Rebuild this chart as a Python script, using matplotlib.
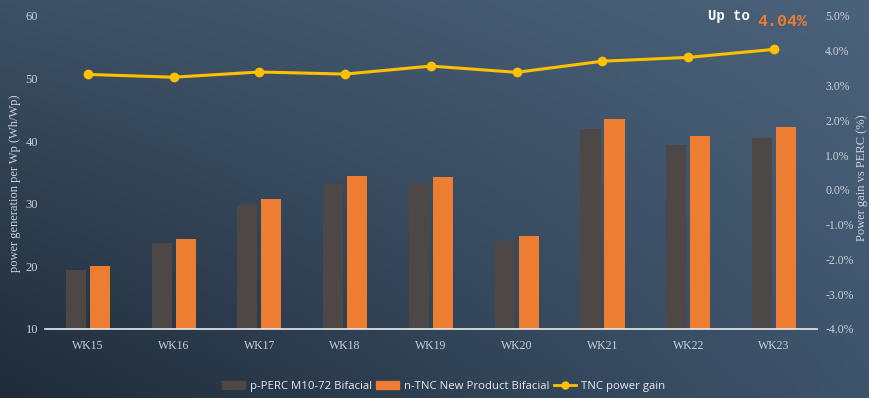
import numpy as np
import matplotlib.pyplot as plt
from matplotlib.lines import Line2D
from matplotlib.patches import Patch

weeks = ["WK15", "WK16", "WK17", "WK18", "WK19", "WK20", "WK21", "WK22", "WK23"]
perc = [19.4, 23.8, 29.8, 33.2, 33.3, 24.1, 42.0, 39.4, 40.5]
tnc = [20.1, 24.4, 30.8, 34.4, 34.3, 24.9, 43.5, 40.8, 42.3]
gain = [3.32, 3.24, 3.39, 3.33, 3.56, 3.38, 3.70, 3.81, 4.04]

left_ticks = [10, 20, 30, 40, 50, 60]
right_ticks = [-4, -3, -2, -1, 0, 1, 2, 3, 4, 5]

GRAY = "#4d4846"
ORANGE = "#ed7d31"
GOLD = "#ffc000"
TXT = "#c9d1da"
SERIF = ["Liberation Serif", "DejaVu Serif"]
MONO = ["Liberation Mono", "DejaVu Sans Mono"]

fig = plt.figure(figsize=(8.7, 3.98), dpi=100)

# gradient backdrop
bg = fig.add_axes([0, 0, 1, 1], zorder=-10)
tl = np.array([0x3d, 0x50, 0x64]) / 255
tr = np.array([0x4a, 0x62, 0x7a]) / 255
bl = np.array([0x1f, 0x2b, 0x38]) / 255
br = np.array([0x3e, 0x54, 0x6c]) / 255
u = np.linspace(0, 1, 200)[None, :, None]
v = np.linspace(0, 1, 100)[:, None, None]
img = (1 - v) * ((1 - u) * tl + u * tr) + v * ((1 - u) * bl + u * br)
bg.imshow(img, aspect="auto", extent=[0, 1, 0, 1])
bg.axis("off")

ax = fig.add_axes([0.0517, 0.1734, 0.8873, 0.7864])
ax.patch.set_alpha(0)
x = np.arange(len(weeks))
w = 0.235
ax.bar(x - 0.14, perc, width=w, color=GRAY, zorder=2)
ax.bar(x + 0.14, tnc, width=w, color=ORANGE, zorder=2)
ax.set_xlim(-0.5, len(weeks) - 0.5)
ax.set_ylim(10, 60)
ax.set_yticks(left_ticks)
ax.set_xticks(x)
ax.set_xticklabels(weeks, family=SERIF, fontsize=8.5, color=TXT)
ax.set_yticklabels([str(t) for t in left_ticks], family=SERIF, fontsize=9, color=TXT)
for s in ["top", "right", "left"]:
    ax.spines[s].set_visible(False)
ax.spines["bottom"].set_color("#e8ecef")
ax.spines["bottom"].set_linewidth(1.2)
ax.tick_params(axis="x", length=0, pad=8)
ax.tick_params(axis="y", length=0, pad=5)

ax2 = ax.twinx()
ax2.plot(x, gain, color=GOLD, lw=2.2, marker="o", ms=6, zorder=3)
ax2.set_ylim(-4, 5)
ax2.set_yticks(right_ticks)
ax2.set_yticklabels([f"{t:.1f}%" for t in right_ticks], family=SERIF,
                    fontsize=8.5, color=TXT)
for s in ["top", "right", "left", "bottom"]:
    ax2.spines[s].set_visible(False)
ax2.tick_params(axis="y", length=0, pad=6)

# axis titles
fig.text(15 / 870, 1 - 183 / 398, "power generation per Wp (Wh/Wp)", family=SERIF,
         fontsize=9, color=TXT, rotation=90, ha="center", va="center")
fig.text(862 / 870, 1 - 178 / 398, "Power gain vs PERC (%)", family=SERIF,
         fontsize=9, color=TXT, rotation=90, ha="center", va="center")

fig.text(750 / 870, 1 - 16 / 398, "Up to", family=MONO,
         fontweight="bold", fontsize=10, color="white", ha="right", va="center")
fig.text(757 / 870, 1 - 21 / 398, f"{gain[-1]:.2f}%", family=MONO,
         fontweight="bold", fontsize=12, color=ORANGE, ha="left", va="center")

handles = [
    Patch(color=GRAY, label="p-PERC M10-72 Bifacial"),
    Patch(color=ORANGE, label="n-TNC New Product Bifacial"),
    Line2D([0], [0], color=GOLD, lw=2, marker="o", ms=5, label="TNC power gain"),
]
leg = fig.legend(handles=handles, loc="center", bbox_to_anchor=(0.51, 0.03),
                 ncol=3, frameon=False, handlelength=2.0, handleheight=0.7,
                 columnspacing=0.4, handletextpad=0.4,
                 prop={"family": ["Open Sans", "DejaVu Sans"], "size": 8.2})
for t in leg.get_texts():
    t.set_color("#e6eaee")

fig.savefig("out.png", dpi=100)
